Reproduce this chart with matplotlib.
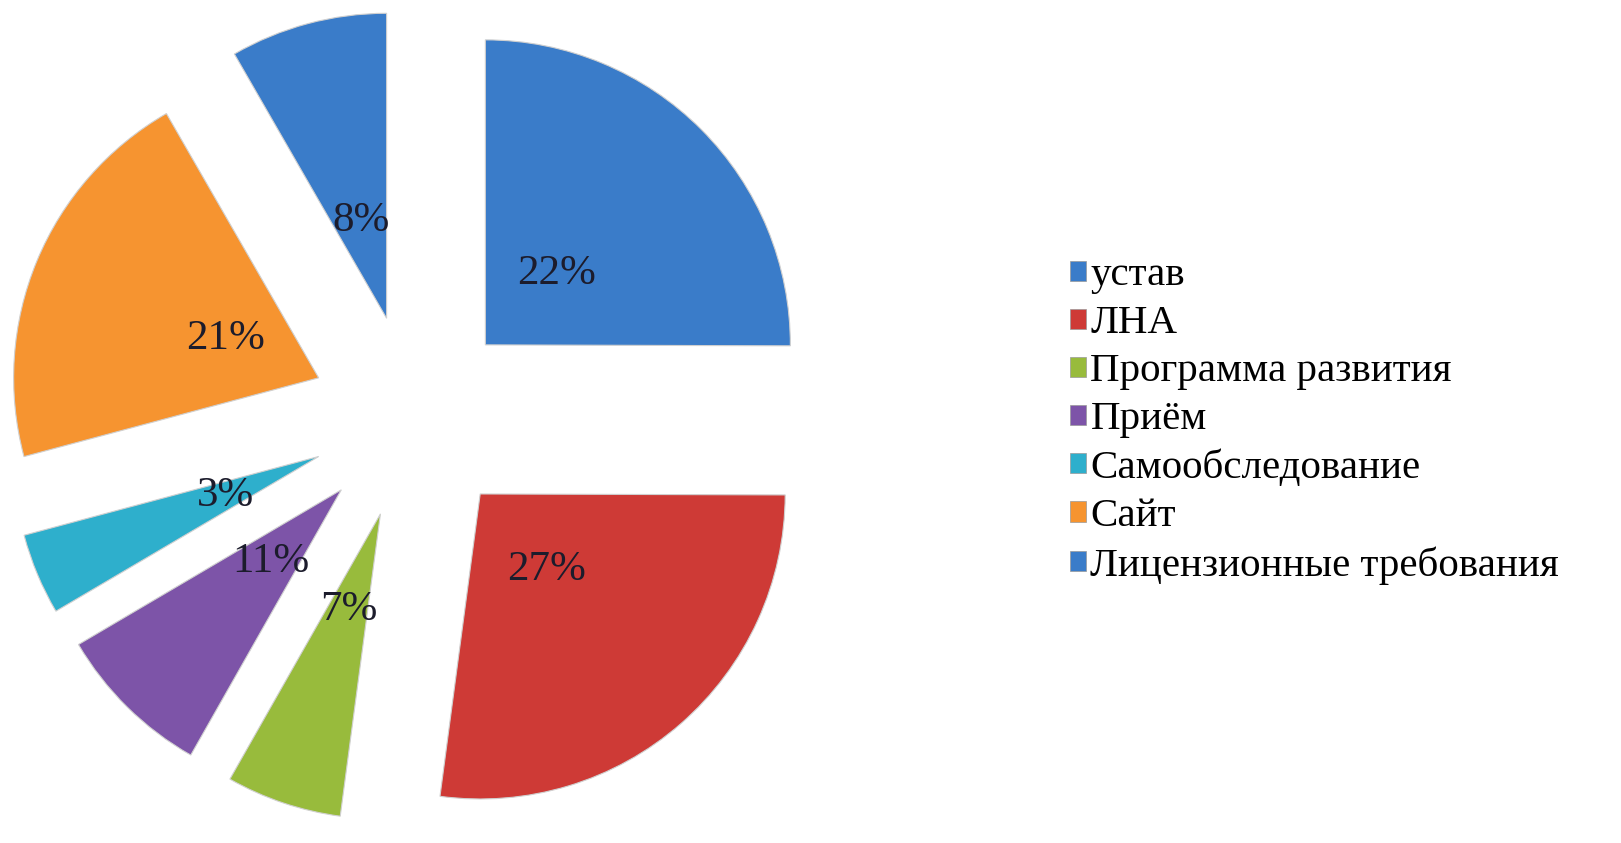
import matplotlib
matplotlib.use('Agg')
import matplotlib.pyplot as plt
from matplotlib.patches import Patch

# categories and values (slice sizes as drawn, label texts as printed on the chart)
categories = ['устав', 'ЛНА', 'Программа развития', 'Приём',
              'Самообследование', 'Сайт', 'Лицензионные требования']
shares = [25.0, 27.0, 6.1, 8.3, 4.3, 20.8, 8.3]
pct_labels = ['22%', '27%', '7%', '11%', '3%', '21%', '8%']
colors = ['#3A7CC9', '#CE3A36', '#98BB3C', '#7D54A8', '#2EAFCC', '#F69430', '#3A7CC9']

plt.rcParams['font.family'] = ['Liberation Serif', 'DejaVu Serif']

W, H = 1621, 843
fig = plt.figure(figsize=(W / 100, H / 100), dpi=100)
ax = fig.add_axes([0, 0, 1, 1])

# pie centre and radius in pixels
cx, cy, R = 413, 417, 305

lab_iter = iter(pct_labels)
wedges, texts, autotexts = ax.pie(
    shares, colors=colors, startangle=90, counterclock=False,
    explode=[0.335] * len(shares), radius=1,
    autopct=lambda p: next(lab_iter), pctdistance=0.33,
    wedgeprops=dict(edgecolor='#d0d0d0', linewidth=0.8),
    textprops=dict(fontsize=31, color='#1c1c2c'))

ax.set_aspect('auto')
ax.set_xlim(-cx / R, (W - cx) / R)
ax.set_ylim(-(H - cy) / R, cy / R)
ax.axis('off')

handles = [Patch(facecolor=c, edgecolor='#999999', linewidth=0.5) for c in colors]
fig.legend(handles, categories, loc='center left',
           bbox_to_anchor=(1070 / W, 1 - 421 / H), frameon=False,
           fontsize=29.5, handlelength=0.38, handleheight=0.38,
           handletextpad=0.12, labelspacing=0.27, borderpad=0,
           borderaxespad=0)

fig.savefig('out.png', dpi=100)
